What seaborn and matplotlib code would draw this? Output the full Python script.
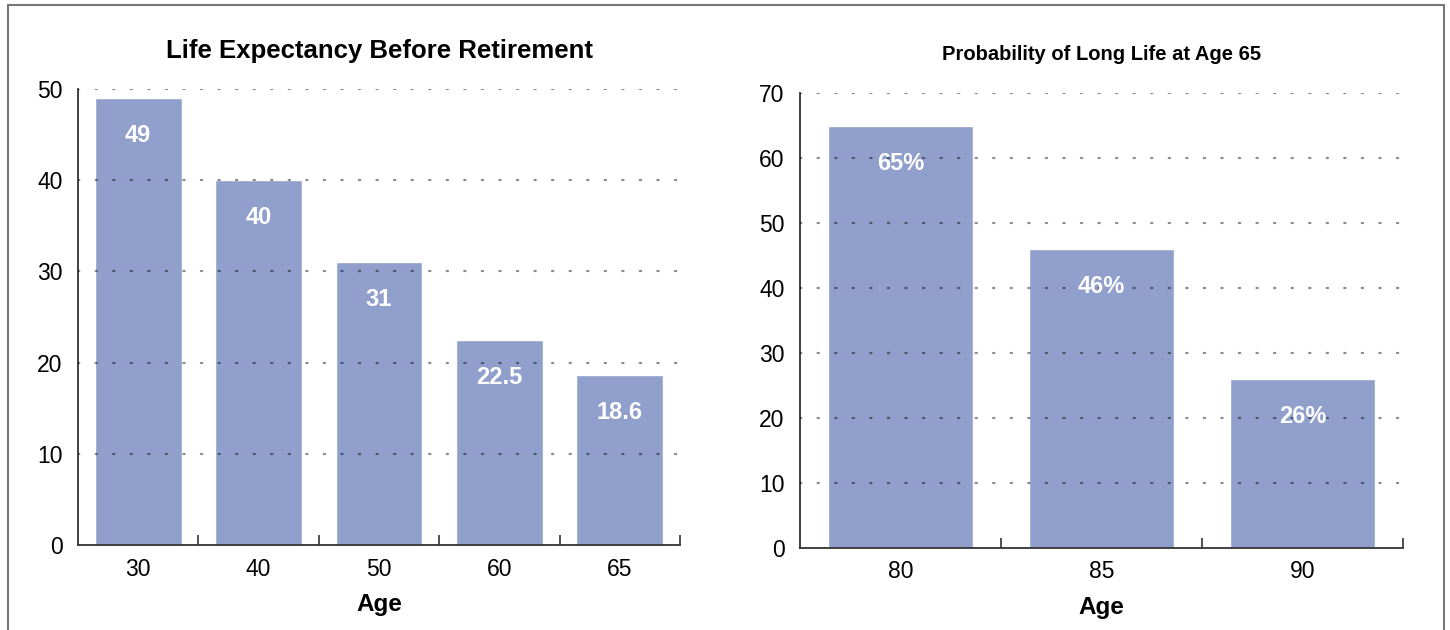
import matplotlib
matplotlib.use("Agg")
import matplotlib.pyplot as plt
import seaborn as sns
import pandas as pd
from matplotlib.patches import Rectangle
from matplotlib.ticker import FixedLocator, MultipleLocator

# ---- data ----
left_ages = ["30", "40", "50", "60", "65"]
left_values = [49, 40, 31, 22.5, 18.6]
left_labels = ["49", "40", "31", "22.5", "18.6"]
left_title = "Life Expectancy Before Retirement"

right_ages = ["80", "85", "90"]
right_values = [65, 46, 26]
right_labels = ["65%", "46%", "26%"]
right_title = "Probability of Long Life at Age 65"

xlabel = "Age"

sns.set_theme(style="white")
plt.rcParams["font.family"] = ["Liberation Sans", "DejaVu Sans"]

BAR = "#909FCB"
fig = plt.figure(figsize=(14.5, 6.3), dpi=100)

ax1 = fig.add_axes([78/1450, 1-545/630, (680-78)/1450, (545-89)/630])
ax2 = fig.add_axes([800/1450, 1-548/630, (1403-800)/1450, (548-93)/630])


def draw(ax, cats, vals, labels, title, ymax, title_size, width, title_pad):
    df = pd.DataFrame({"age": cats, "val": vals})
    sns.barplot(data=df, x="age", y="val", color=BAR, saturation=1,
                width=width, ax=ax, zorder=1)
    n = len(cats)
    ax.set_xlim(-0.5, n - 0.5)
    ax.set_ylim(0, ymax)
    ax.yaxis.set_major_locator(MultipleLocator(10))
    ax.set_ylabel("")
    ax.set_xlabel(xlabel, fontsize=17.5, fontweight="bold", labelpad=9,
                  color="black")
    ax.set_title(title, fontsize=title_size, fontweight="bold", pad=title_pad,
                 color="black")
    for s in ["top", "right"]:
        ax.spines[s].set_visible(False)
    for s in ["left", "bottom"]:
        ax.spines[s].set_color("#333333")
        ax.spines[s].set_linewidth(1.3)
    ax.tick_params(axis="y", length=0, labelsize=16.5, pad=11, colors="black")
    ax.tick_params(axis="x", which="major", length=0, labelsize=16.5, pad=9,
                   colors="black")
    ax.xaxis.set_minor_locator(FixedLocator([i + 0.5 for i in range(n)]))
    ax.tick_params(axis="x", which="minor", bottom=True, direction="in",
                   length=7, width=1.2, color="#333333")
    for t in range(10, ymax + 1, 10):
        ax.axhline(t, color="black", alpha=0.45, linewidth=1.6,
                   linestyle=(0, (0.6, 7.3)), dash_capstyle="round", zorder=3)
    for i, (v, lab) in enumerate(zip(vals, labels)):
        ax.annotate(lab, xy=(i, v), xytext=(0, -27), textcoords="offset points",
                    ha="center", va="center", color="white", fontsize=17,
                    fontweight="bold", zorder=4)


draw(ax1, left_ages, left_values, left_labels, left_title, 50, 18.5, 0.72, 22)
draw(ax2, right_ages, right_values, right_labels, right_title, 70, 14.5, 0.72, 24)

# figure frame
fig.patches.append(Rectangle((8/1450, -0.02), (1444-8)/1450, 1.02-5/630,
                             transform=fig.transFigure, fill=False,
                             edgecolor="#777777", linewidth=1.5, zorder=10))

fig.savefig("out.png", dpi=100)
